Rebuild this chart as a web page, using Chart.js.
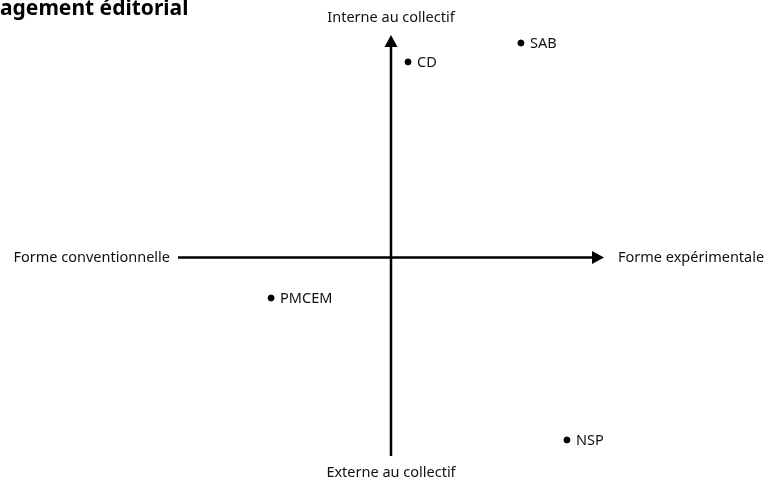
<!DOCTYPE html>
<html>
<head>
<meta charset="utf-8">
<script src="https://cdn.jsdelivr.net/npm/chart.js@4/dist/chart.umd.min.js"></script>
<style>
html,body{margin:0;padding:0;background:#fff;}
#wrap{width:764px;height:479px;position:relative;}
</style>
</head>
<body>
<div id="wrap"><canvas id="c" width="764" height="479"></canvas></div>
<script>
const title = "Engagement éditorial";
const axisLabels = {
  left: "Forme conventionnelle",
  right: "Forme expérimentale",
  top: "Interne au collectif",
  bottom: "Externe au collectif"
};
const categories = ["CD", "SAB", "PMCEM", "NSP"];
const xValues = [0.8, 6.1, -5.63, 8.26];
const yValues = [8.79, 9.64, -1.82, -8.2];
const xRange = [-10, 10];
const yRange = [-8.92, 10];

const FONT = '"Noto Sans", sans-serif';

const quadrantPlugin = {
  id: 'quadrant',
  afterDatasetsDraw(chart) {
    const ctx = chart.ctx;
    const xs = chart.scales.x, ys = chart.scales.y;
    const ca = chart.chartArea;
    const x0 = xs.getPixelForValue(0), y0 = ys.getPixelForValue(0);
    ctx.save();
    ctx.strokeStyle = '#000';
    ctx.fillStyle = '#000';
    ctx.lineWidth = 2.5;
    const head = 12, hw = 6.5;
    // horizontal axis
    ctx.beginPath();
    ctx.moveTo(ca.left, y0);
    ctx.lineTo(ca.right - head + 1, y0);
    ctx.stroke();
    ctx.beginPath();
    ctx.moveTo(ca.right, y0);
    ctx.lineTo(ca.right - head, y0 - hw);
    ctx.lineTo(ca.right - head, y0 + hw);
    ctx.closePath();
    ctx.fill();
    // vertical axis
    ctx.beginPath();
    ctx.moveTo(x0, ca.bottom);
    ctx.lineTo(x0, ca.top + head - 1);
    ctx.stroke();
    ctx.beginPath();
    ctx.moveTo(x0, ca.top);
    ctx.lineTo(x0 - hw, ca.top + head);
    ctx.lineTo(x0 + hw, ca.top + head);
    ctx.closePath();
    ctx.fill();

    // axis labels
    ctx.font = '14.5px ' + FONT;
    ctx.fillStyle = '#111';
    ctx.textBaseline = 'middle';
    ctx.textAlign = 'right';
    ctx.fillText(axisLabels.left, ca.left - 8, y0);
    ctx.textAlign = 'left';
    ctx.fillText(axisLabels.right, ca.right + 14, y0);
    ctx.textAlign = 'center';
    ctx.fillText(axisLabels.top, x0, ca.top - 17);
    ctx.fillText(axisLabels.bottom, x0, ca.bottom + 17);

    // point labels
    const meta = chart.getDatasetMeta(0);
    ctx.font = '14.5px ' + FONT;
    ctx.textAlign = 'left';
    meta.data.forEach((pt, i) => {
      ctx.fillText(categories[i], pt.x + 9, pt.y + 1);
    });

    // title (partly off-canvas on the left and top)
    ctx.font = 'bold 21px ' + FONT;
    ctx.textBaseline = 'alphabetic';
    ctx.textAlign = 'left';
    ctx.fillStyle = '#000';
    const off = ctx.measureText('Eng').width;
    ctx.fillText(title, -off, 15);
    ctx.restore();
  }
};

new Chart(document.getElementById('c'), {
  type: 'scatter',
  data: {
    datasets: [{
      data: categories.map((c, i) => ({x: xValues[i], y: yValues[i]})),
      backgroundColor: '#000',
      borderColor: '#000',
      pointRadius: 3,
      pointHoverRadius: 3
    }]
  },
  options: {
    responsive: false,
    animation: false,
    devicePixelRatio: 1,
    layout: { padding: { left: 178, right: 160, top: 35, bottom: 23 } },
    plugins: { legend: { display: false }, tooltip: { enabled: false }, title: { display: false } },
    scales: {
      x: { type: 'linear', min: xRange[0], max: xRange[1], display: false },
      y: { type: 'linear', min: yRange[0], max: yRange[1], display: false }
    }
  },
  plugins: [quadrantPlugin]
});
</script>
</body>
</html>
